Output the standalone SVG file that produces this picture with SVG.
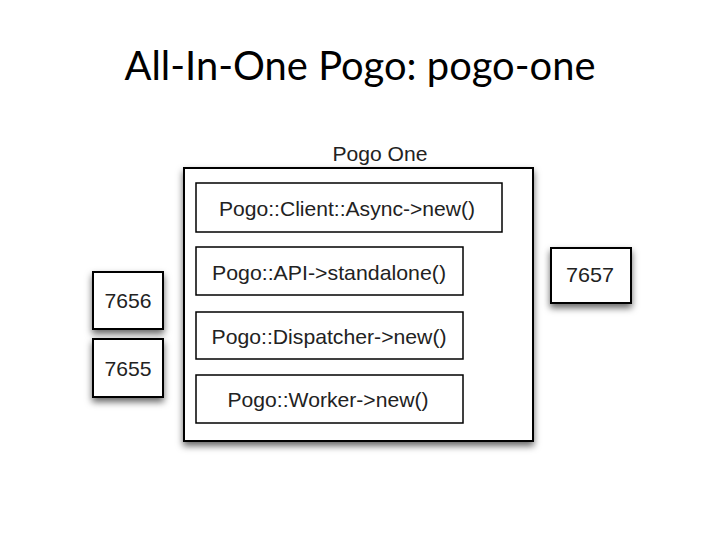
<svg xmlns="http://www.w3.org/2000/svg" width="720" height="540" viewBox="0 0 720 540">
<style>
.box{fill:#fff;stroke:#000;stroke-width:2}
.inner{fill:#fff;stroke:#000;stroke-width:1.5}
.lbl{font-family:"Liberation Sans",Arial,sans-serif;font-size:21px;fill:#222;text-anchor:middle}
.title{font-family:Lato,"Open Sans",sans-serif;font-size:40px;fill:#000;text-anchor:middle}
</style>
<defs>
<filter id="sh" x="-20%" y="-20%" width="140%" height="150%">
<feDropShadow dx="0" dy="4" stdDeviation="3.5" flood-color="#000" flood-opacity="0.6"/>
</filter>
</defs>
<rect width="720" height="540" fill="#fff"/>
<text class="title" x="360" y="80" textLength="471" lengthAdjust="spacingAndGlyphs">All-In-One Pogo: pogo-one</text>
<g id="pogo-one">
<text class="lbl" x="380" y="161" textLength="95" lengthAdjust="spacingAndGlyphs">Pogo One</text>
<rect class="box" x="184" y="168" width="349" height="273" filter="url(#sh)"/>
</g>
<g id="client">
<rect class="inner" x="196" y="183" width="306" height="49"/>
<text class="lbl" x="347" y="216" textLength="256" lengthAdjust="spacingAndGlyphs">Pogo::Client::Async-&gt;new()</text>
</g>
<g id="api">
<rect class="inner" x="196" y="247" width="267" height="48"/>
<text class="lbl" x="329" y="280" textLength="234" lengthAdjust="spacingAndGlyphs">Pogo::API-&gt;standalone()</text>
</g>
<g id="dispatcher">
<rect class="inner" x="196" y="312" width="267" height="47"/>
<text class="lbl" x="329" y="344" textLength="235" lengthAdjust="spacingAndGlyphs">Pogo::Dispatcher-&gt;new()</text>
</g>
<g id="worker">
<rect class="inner" x="196" y="375" width="267" height="48"/>
<text class="lbl" x="328" y="407" textLength="201" lengthAdjust="spacingAndGlyphs">Pogo::Worker-&gt;new()</text>
</g>
<g id="p7656">
<rect class="box" x="93" y="272" width="70" height="57" filter="url(#sh)"/>
<text class="lbl" x="128" y="308" textLength="47" lengthAdjust="spacingAndGlyphs">7656</text>
</g>
<g id="p7655">
<rect class="box" x="93" y="339" width="70" height="58" filter="url(#sh)"/>
<text class="lbl" x="128" y="376" textLength="47" lengthAdjust="spacingAndGlyphs">7655</text>
</g>
<g id="p7657">
<rect class="box" x="551" y="248" width="80" height="55" filter="url(#sh)"/>
<text class="lbl" x="590" y="282" textLength="48" lengthAdjust="spacingAndGlyphs">7657</text>
</g>
<g id="connectors"/>
</svg>
